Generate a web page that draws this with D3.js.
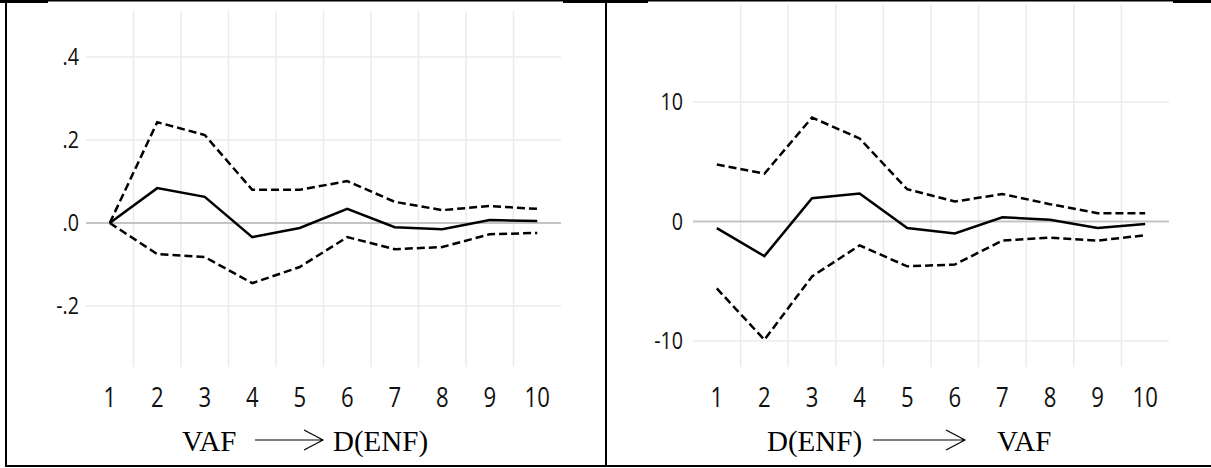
<!DOCTYPE html>
<html>
<head>
<meta charset="utf-8">
<script src="https://cdn.jsdelivr.net/npm/d3@7"></script>
<style>
  html, body { margin: 0; padding: 0; background: #fff; }
  svg { display: block; }
</style>
</head>
<body>
<svg id="chart" width="1211" height="468"></svg>
<script>
// ---- data ----
const periods = [1, 2, 3, 4, 5, 6, 7, 8, 9, 10];

// Panel A: VAF -> D(ENF)
const aResponse = [0.000, 0.084, 0.063, -0.034, -0.012, 0.034, -0.010, -0.015, 0.007, 0.005];
const aUpper    = [0.000, 0.243, 0.212, 0.080, 0.080, 0.101, 0.051, 0.031, 0.041, 0.034];
const aLower    = [0.000, -0.075, -0.082, -0.145, -0.106, -0.034, -0.063, -0.058, -0.027, -0.024];
const aTicks = [-0.2, 0.0, 0.2, 0.4];
const aTickLabels = ["-.2", ".0", ".2", ".4"];

// Panel B: D(ENF) -> VAF
const bResponse = [-0.55, -2.9, 1.95, 2.35, -0.55, -1.0, 0.35, 0.15, -0.55, -0.2];
const bUpper    = [4.77, 4.0, 8.7, 6.95, 2.7, 1.67, 2.3, 1.45, 0.7, 0.7];
const bLower    = [-5.6, -9.9, -4.6, -2.0, -3.75, -3.6, -1.6, -1.35, -1.6, -1.15];
const bTicks = [-10, 0, 10];
const bTickLabels = ["-10", "0", "10"];

const titleA = ["VAF", "D(ENF)"];
const titleB = ["D(ENF)", "VAF"];

// ---- drawing ----
const svg = d3.select("#chart");

// frame (table borders)
const frame = svg.append("g");
frame.append("rect").attr("x", 5).attr("y", 0).attr("width", 1206).attr("height", 1.5).attr("fill", "#000");
[[0, 48], [563, 648], [1173, 1211]].forEach(([a, b]) =>
  frame.append("rect").attr("x", a).attr("y", 0).attr("width", b - a).attr("height", 3).attr("fill", "#000"));
frame.append("rect").attr("x", 5).attr("y", 0).attr("width", 2).attr("height", 467).attr("fill", "#000");
frame.append("rect").attr("x", 605).attr("y", 0).attr("width", 2).attr("height", 467).attr("fill", "#000");
frame.append("rect").attr("x", 5).attr("y", 465).attr("width", 1206).attr("height", 2).attr("fill", "#000");

function panel(cfg) {
  const g = svg.append("g");
  const x = d3.scaleBand().domain(periods).range([cfg.x0, cfg.x1]);
  const y = d3.scaleLinear().domain(cfg.yDomain).range(cfg.yRange);

  // vertical grid lines at band boundaries
  g.selectAll("line.vg").data(periods.slice(1)).join("line")
    .attr("x1", d => x(d)).attr("x2", d => x(d))
    .attr("y1", cfg.gridTop).attr("y2", 367)
    .attr("stroke", "#ebebeb").attr("stroke-width", 1.5);

  // horizontal grid lines
  g.selectAll("line.hg").data(cfg.ticks).join("line")
    .attr("x1", cfg.x0).attr("x2", cfg.x1)
    .attr("y1", d => y(d)).attr("y2", d => y(d))
    .attr("stroke", d => d === 0 ? "#c4c4c4" : "#ebebeb")
    .attr("stroke-width", d => d === 0 ? 2 : 1.5);

  // y tick labels
  g.selectAll("text.yt").data(cfg.ticks).join("text")
    .attr("transform", d => `translate(${cfg.yLabelX},${y(d)}) scale(0.82,1)`)
    .attr("text-anchor", "end").attr("dy", "0.35em")
    .attr("font-family", "'Open Sans', sans-serif").attr("font-size", 24)
    .attr("fill", "#111")
    .text((d, i) => cfg.tickLabels[i]);

  // x tick labels
  g.selectAll("text.xt").data(periods).join("text")
    .attr("transform", d => `translate(${x(d) + x.bandwidth() / 2},407) scale(0.82,1)`)
    .attr("text-anchor", "middle")
    .attr("font-family", "'Open Sans', sans-serif").attr("font-size", 27)
    .attr("fill", "#111")
    .text(d => d);

  const line = d3.line().x((d, i) => x(periods[i]) + x.bandwidth() / 2).y(d => y(d));
  [[cfg.upper, true], [cfg.lower, true], [cfg.resp, false]].forEach(([vals, dashed]) => {
    g.append("path").datum(vals)
      .attr("d", line)
      .attr("fill", "none").attr("stroke", "#000")
      .attr("stroke-width", 2.5)
      .attr("stroke-linejoin", "miter")
      .attr("stroke-dasharray", dashed ? "8,4" : null);
  });

  // title with arrow
  const tg = g.append("g").attr("font-family", "'Liberation Serif', 'Times New Roman', serif")
    .attr("font-size", 29).attr("fill", "#000");
  tg.append("text").attr("x", cfg.t1x).attr("y", 451).text(cfg.title[0]);
  tg.append("text").attr("x", cfg.t2x).attr("y", 451).text(cfg.title[1]);
  const a0 = cfg.arrow[0], a1 = cfg.arrow[1];
  tg.append("path")
    .attr("d", `M${a0},440H${a1}M${a1 - 19},430L${a1},440L${a1 - 19},450`)
    .attr("fill", "none").attr("stroke", "#000").attr("stroke-width", 1.2);
}

panel({
  x0: 86, x1: 561, gridTop: 11,
  yDomain: [-0.2, 0.4], yRange: [306, 57],
  ticks: aTicks, tickLabels: aTickLabels, yLabelX: 79,
  resp: aResponse, upper: aUpper, lower: aLower,
  title: titleA, t1x: 182, t2x: 333, arrow: [255, 323]
});

panel({
  x0: 693, x1: 1169, gridTop: 4,
  yDomain: [-10, 10], yRange: [341, 102],
  ticks: bTicks, tickLabels: bTickLabels, yLabelX: 683,
  resp: bResponse, upper: bUpper, lower: bLower,
  title: titleB, t1x: 767, t2x: 997, arrow: [873, 965]
});
</script>
</body>
</html>
